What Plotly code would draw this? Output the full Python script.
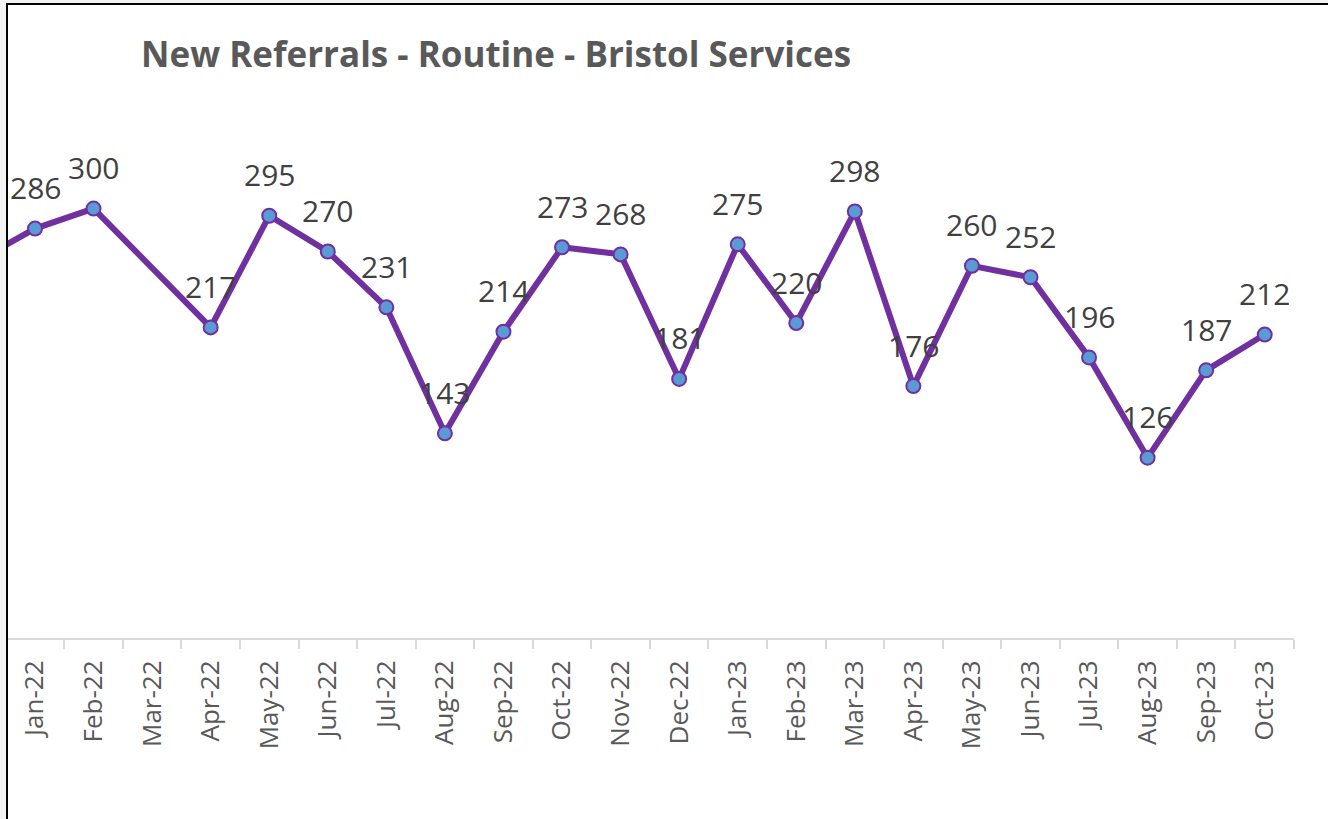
import plotly.graph_objects as go

# Data
months = ["Dec-21", "Jan-22", "Feb-22", "Mar-22", "Apr-22", "May-22", "Jun-22", "Jul-22",
          "Aug-22", "Sep-22", "Oct-22", "Nov-22", "Dec-22", "Jan-23", "Feb-23",
          "Mar-23", "Apr-23", "May-23", "Jun-23", "Jul-23", "Aug-23", "Sep-23", "Oct-23"]
referrals = [263, 286, 300, None, 217, 295, 270, 231, 143, 214, 273, 268, 181, 275, 220,
             298, 176, 260, 252, 196, 126, 187, 212]
title_text = "New Referrals - Routine - Bristol Services"

W, H = 1328, 819
L, R, T, B = 8, 34, 137, 181
pw, ph = W - L - R, H - T - B

def px_x(px):
    return (px - L) / pw

def px_y(py):
    return (H - B - py) / ph

fig = go.Figure()
fig.add_trace(go.Scatter(
    x=months, y=referrals, mode="lines+markers", connectgaps=True,
    line=dict(color="#7030A0", width=6),
    marker=dict(size=14, color="#5B9BD5", line=dict(color="#7030A0", width=2)),
    cliponaxis=True, hoverinfo="x+y", showlegend=False,
))

annotations = []
for m, v in zip(months[1:], referrals[1:]):
    if v is None:
        continue
    annotations.append(dict(
        x=m, y=v, xref="x", yref="y", text=str(v), showarrow=False,
        yshift=41, yanchor="middle", xanchor="center",
        font=dict(family="Open Sans", size=30, color="#404040"),
    ))

shapes = [
    dict(type="rect", xref="paper", yref="paper", x0=px_x(0), x1=px_x(6), y0=px_y(H), y1=px_y(0),
         fillcolor="#f3f3f3", line=dict(width=0), layer="above"),
    dict(type="rect", xref="paper", yref="paper", x0=px_x(0), x1=px_x(W), y0=px_y(3), y1=px_y(0),
         fillcolor="#f3f3f3", line=dict(width=0), layer="above"),
    dict(type="line", xref="paper", yref="paper", x0=px_x(7), x1=px_x(7), y0=px_y(H), y1=px_y(4),
         line=dict(color="#000000", width=2), layer="above"),
    dict(type="line", xref="paper", yref="paper", x0=px_x(6), x1=px_x(W), y0=px_y(4), y1=px_y(4),
         line=dict(color="#000000", width=2), layer="above"),
]

n = len(months)
fig.update_layout(
    width=W, height=H,
    margin=dict(l=L, r=R, t=T, b=B, pad=0),
    paper_bgcolor="white", plot_bgcolor="white",
    title=dict(text="<b>" + title_text + "</b>", x=141 / W, xanchor="left",
               y=1 - 55 / H, yanchor="middle",
               font=dict(family="Open Sans", size=35, color="#595959")),
    xaxis=dict(
        type="category", categoryorder="array", categoryarray=months,
        range=[0.539, n - 0.5],
        showgrid=False, zeroline=False,
        showline=True, linecolor="#d9d9d9", linewidth=2,
        ticks="outside", tickson="boundaries", ticklen=9, tickcolor="#d9d9d9", tickwidth=2,
        tickangle=-90, ticklabelstandoff=10,
        tickfont=dict(family="Open Sans", size=26, color="#595959"),
    ),
    yaxis=dict(range=[0, 350], showgrid=False, zeroline=False, showline=False,
               showticklabels=False, ticks=""),
    annotations=annotations,
    shapes=shapes,
)

fig.write_html("out.html", config={"displayModeBar": False},
               post_script="document.body.style.margin='0px';document.body.style.padding='0px';")
